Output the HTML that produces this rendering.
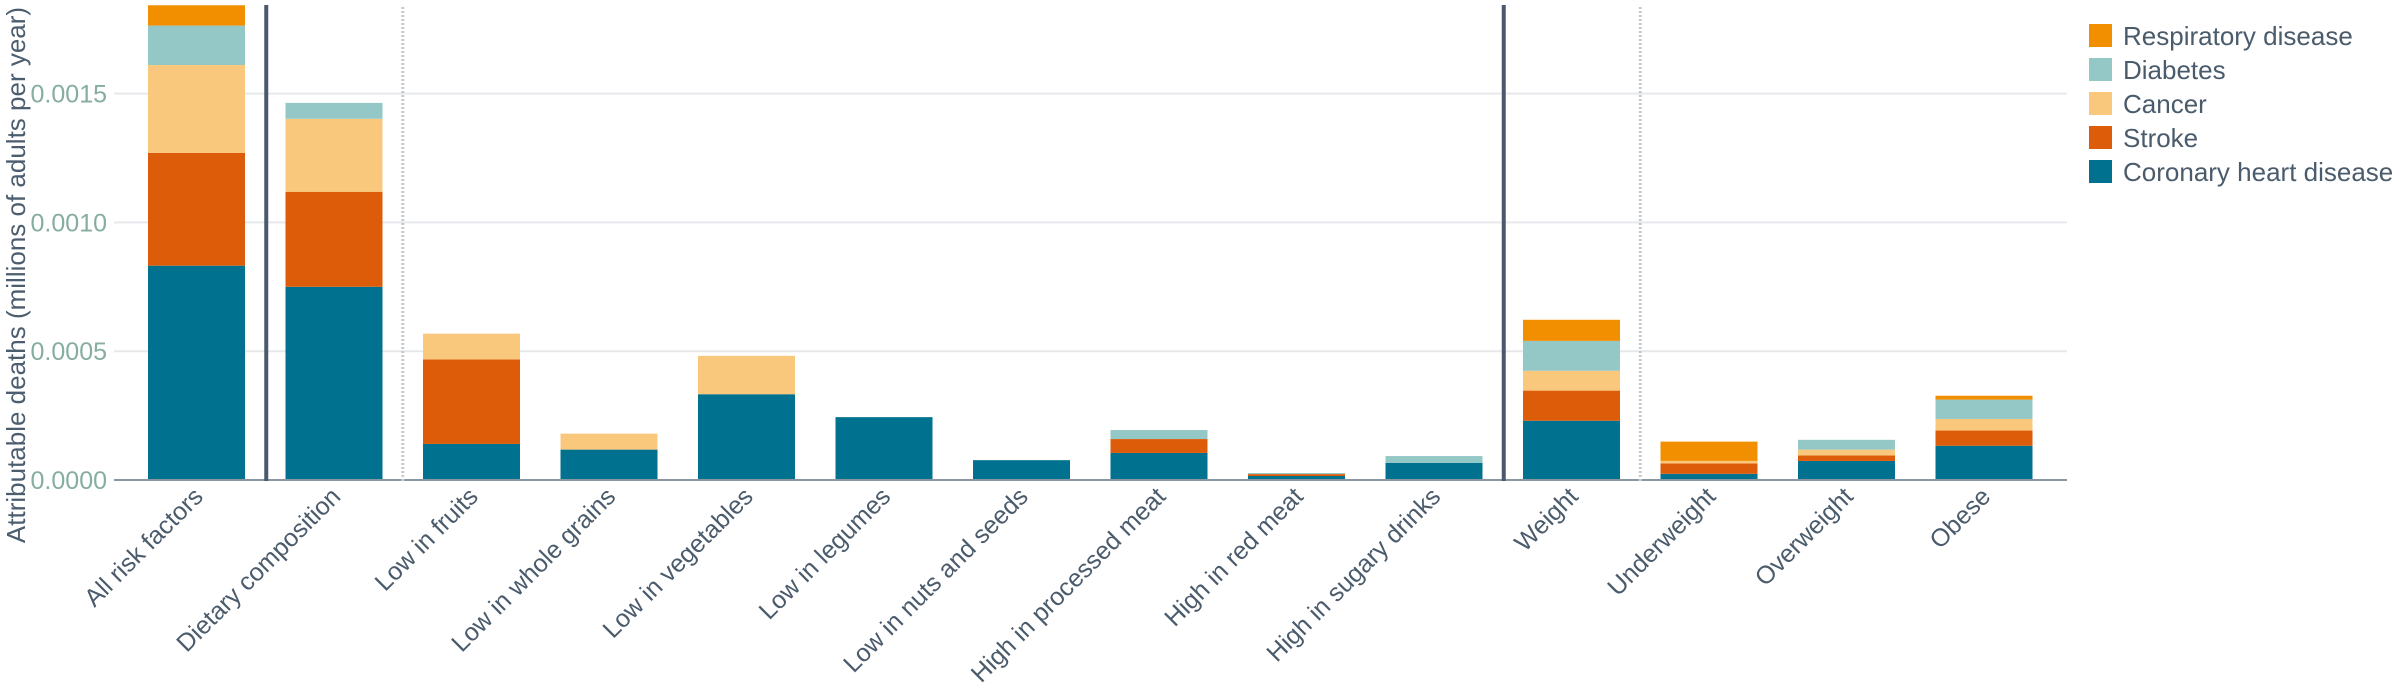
<!DOCTYPE html>
<html><head><meta charset="utf-8"><style>
html,body{margin:0;padding:0;background:#fff;}
svg{display:block;font-family:"Liberation Sans",sans-serif;}
</style></head><body>
<svg id="chart" width="2400" height="700" viewBox="0 0 2400 700"></svg>
<script>
const categories = ["All risk factors","Dietary composition","Low in fruits","Low in whole grains","Low in vegetables","Low in legumes","Low in nuts and seeds","High in processed meat","High in red meat","High in sugary drinks","Weight","Underweight","Overweight","Obese"];
const seriesNames = ["Coronary heart disease","Stroke","Cancer","Diabetes","Respiratory disease"];
const chd =      [0.000832,0.000750,0.000140,0.000118,0.000333,0.000244,0.000077,0.000105,0.0000155,0.000066,0.000230,0.000024,0.000074,0.000133];
const stroke =   [0.000438,0.000369,0.000328,0,0,0,0,0.000054,0.0000075,0,0.000117,0.000040,0.000021,0.000059];
const cancer =   [0.000341,0.000283,0.000100,0.000062,0.000149,0,0,0,0,0,0.000077,0.000010,0.000023,0.000045];
const diabetes = [0.000153,0.000062,0,0,0,0,0,0.000035,0.000004,0.000027,0.000116,0,0.000038,0.000075];
const resp =     [0.000079,0,0,0,0,0,0,0,0,0,0.000082,0.000075,0,0.000015];
const yTicks = [0,0.0005,0.0010,0.0015];
const yTickLabels = ["0.0000","0.0005","0.0010","0.0015"];
const solidSeparators = [0.5,9.5];
const dottedSeparators = [1.5,10.5];

const colors = ["#00728f","#dd5c0a","#fac87d","#94c8c7","#f28f00"];
const svg = document.getElementById('chart');
const NS = "http://www.w3.org/2000/svg";
const y0 = 480, pxPerUnit = 128.8/0.0005;
const yScale = v => y0 - v*pxPerUnit;
const xCenter = i => 196.5 + 137.5*i;
const barW = 97;
function mk(tag, attrs){const e=document.createElementNS(NS,tag);for(const k in attrs)e.setAttribute(k,attrs[k]);svg.appendChild(e);return e;}

yTicks.forEach((t,i)=>{
  if(t>0){const g=mk('line',{x1:114,x2:2067,y1:yScale(t),y2:yScale(t),stroke:'#e6e9ec','stroke-width':2});
  
  }
  const tx=mk('text',{x:107,y:yScale(t)+9,'text-anchor':'end','font-size':25,fill:'#86ad9e'});
  tx.textContent=yTickLabels[i];
  
  
});
const yt=mk('text',{x:0,y:0,transform:'translate(25,275) rotate(-90)','text-anchor':'middle','font-size':26,fill:'#4b5d6e'});
yt.textContent="Attributable deaths (millions of adults per year)";



const series=[chd,stroke,cancer,diabetes,resp];
categories.forEach((c,i)=>{
  let acc=0;
  series.forEach((s,k)=>{
    const v=s[i]; if(v<=0){return;}
    const r=mk('rect',{x:xCenter(i)-barW/2,y:yScale(acc+v),width:barW,height:v*pxPerUnit,fill:colors[k]});
    
    
    acc+=v;
  });
  const lx=xCenter(i)+8, ly=498;
  const lt=mk('text',{x:lx,y:ly,transform:`rotate(-45 ${lx} ${ly})`,'text-anchor':'end','font-size':25,fill:'#4a5b6c'});
  lt.textContent=c;
  
  
});
const ax=mk('line',{x1:114,x2:2067,y1:y0,y2:y0,stroke:'#8a96a2','stroke-width':2});


solidSeparators.forEach(p=>{
  const l=mk('line',{x1:xCenter(p)+1,x2:xCenter(p)+1,y1:5,y2:481,stroke:'#4a5a6a','stroke-width':4});
  
  
});
dottedSeparators.forEach(p=>{
  const l=mk('line',{x1:xCenter(p),x2:xCenter(p),y1:7,y2:481,stroke:'#c5cacf','stroke-width':3,'stroke-dasharray':'2,2'});
  
  
});
const legendOrder=[4,3,2,1,0];
legendOrder.forEach((k,j)=>{
  const y=24+34*j;
  const r=mk('rect',{x:2089,y:y,width:23,height:23,fill:colors[k]});
  
  
  const t=mk('text',{x:2123,y:y+21,'font-size':26,fill:'#4a5b6c'});
  t.textContent=seriesNames[k];
  
  
});
</script>
</body></html>
